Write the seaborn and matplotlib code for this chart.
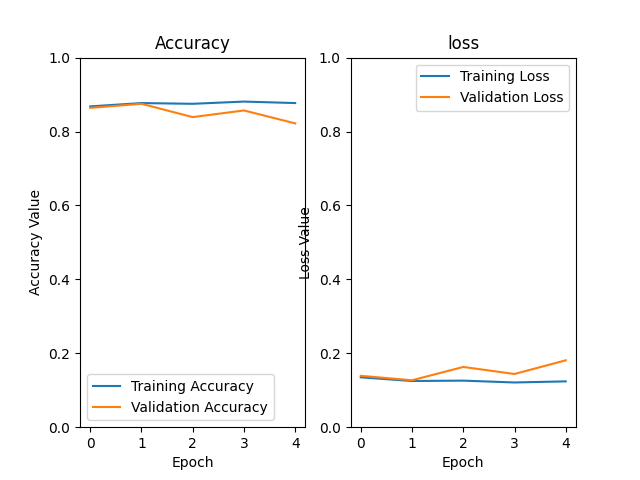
import numpy as np
import pandas as pd
import matplotlib
matplotlib.use('Agg')
import matplotlib.pyplot as plt
import seaborn as sns

# values
epochs = [0, 1, 2, 3, 4]
train_acc = [0.868, 0.877, 0.875, 0.881, 0.877]
val_acc = [0.864, 0.875, 0.839, 0.857, 0.822]
train_loss = [0.135, 0.125, 0.126, 0.121, 0.124]
val_loss = [0.139, 0.127, 0.163, 0.144, 0.181]

fig, (ax1, ax2) = plt.subplots(1, 2, figsize=(6.4, 4.8), dpi=100)

# 准确率
sns.lineplot(x=epochs, y=train_acc, ax=ax1, label='Training Accuracy', color='tab:blue')
sns.lineplot(x=epochs, y=val_acc, ax=ax1, label='Validation Accuracy', color='tab:orange')
ax1.set_ylim(0, 1)
ax1.set_title('Accuracy')
ax1.set_xlabel('Epoch')
ax1.set_ylabel('Accuracy Value')
ax1.set_xticks(epochs)
ax1.legend(loc='lower left')

# 损失
sns.lineplot(x=epochs, y=train_loss, ax=ax2, label='Training Loss', color='tab:blue')
sns.lineplot(x=epochs, y=val_loss, ax=ax2, label='Validation Loss', color='tab:orange')
ax2.set_ylim(0, 1)
ax2.set_title('loss')
ax2.set_xlabel('Epoch')
ax2.set_ylabel('Loss Value')
ax2.set_xticks(epochs)
ax2.legend(loc='upper right')

plt.savefig('out.png')
